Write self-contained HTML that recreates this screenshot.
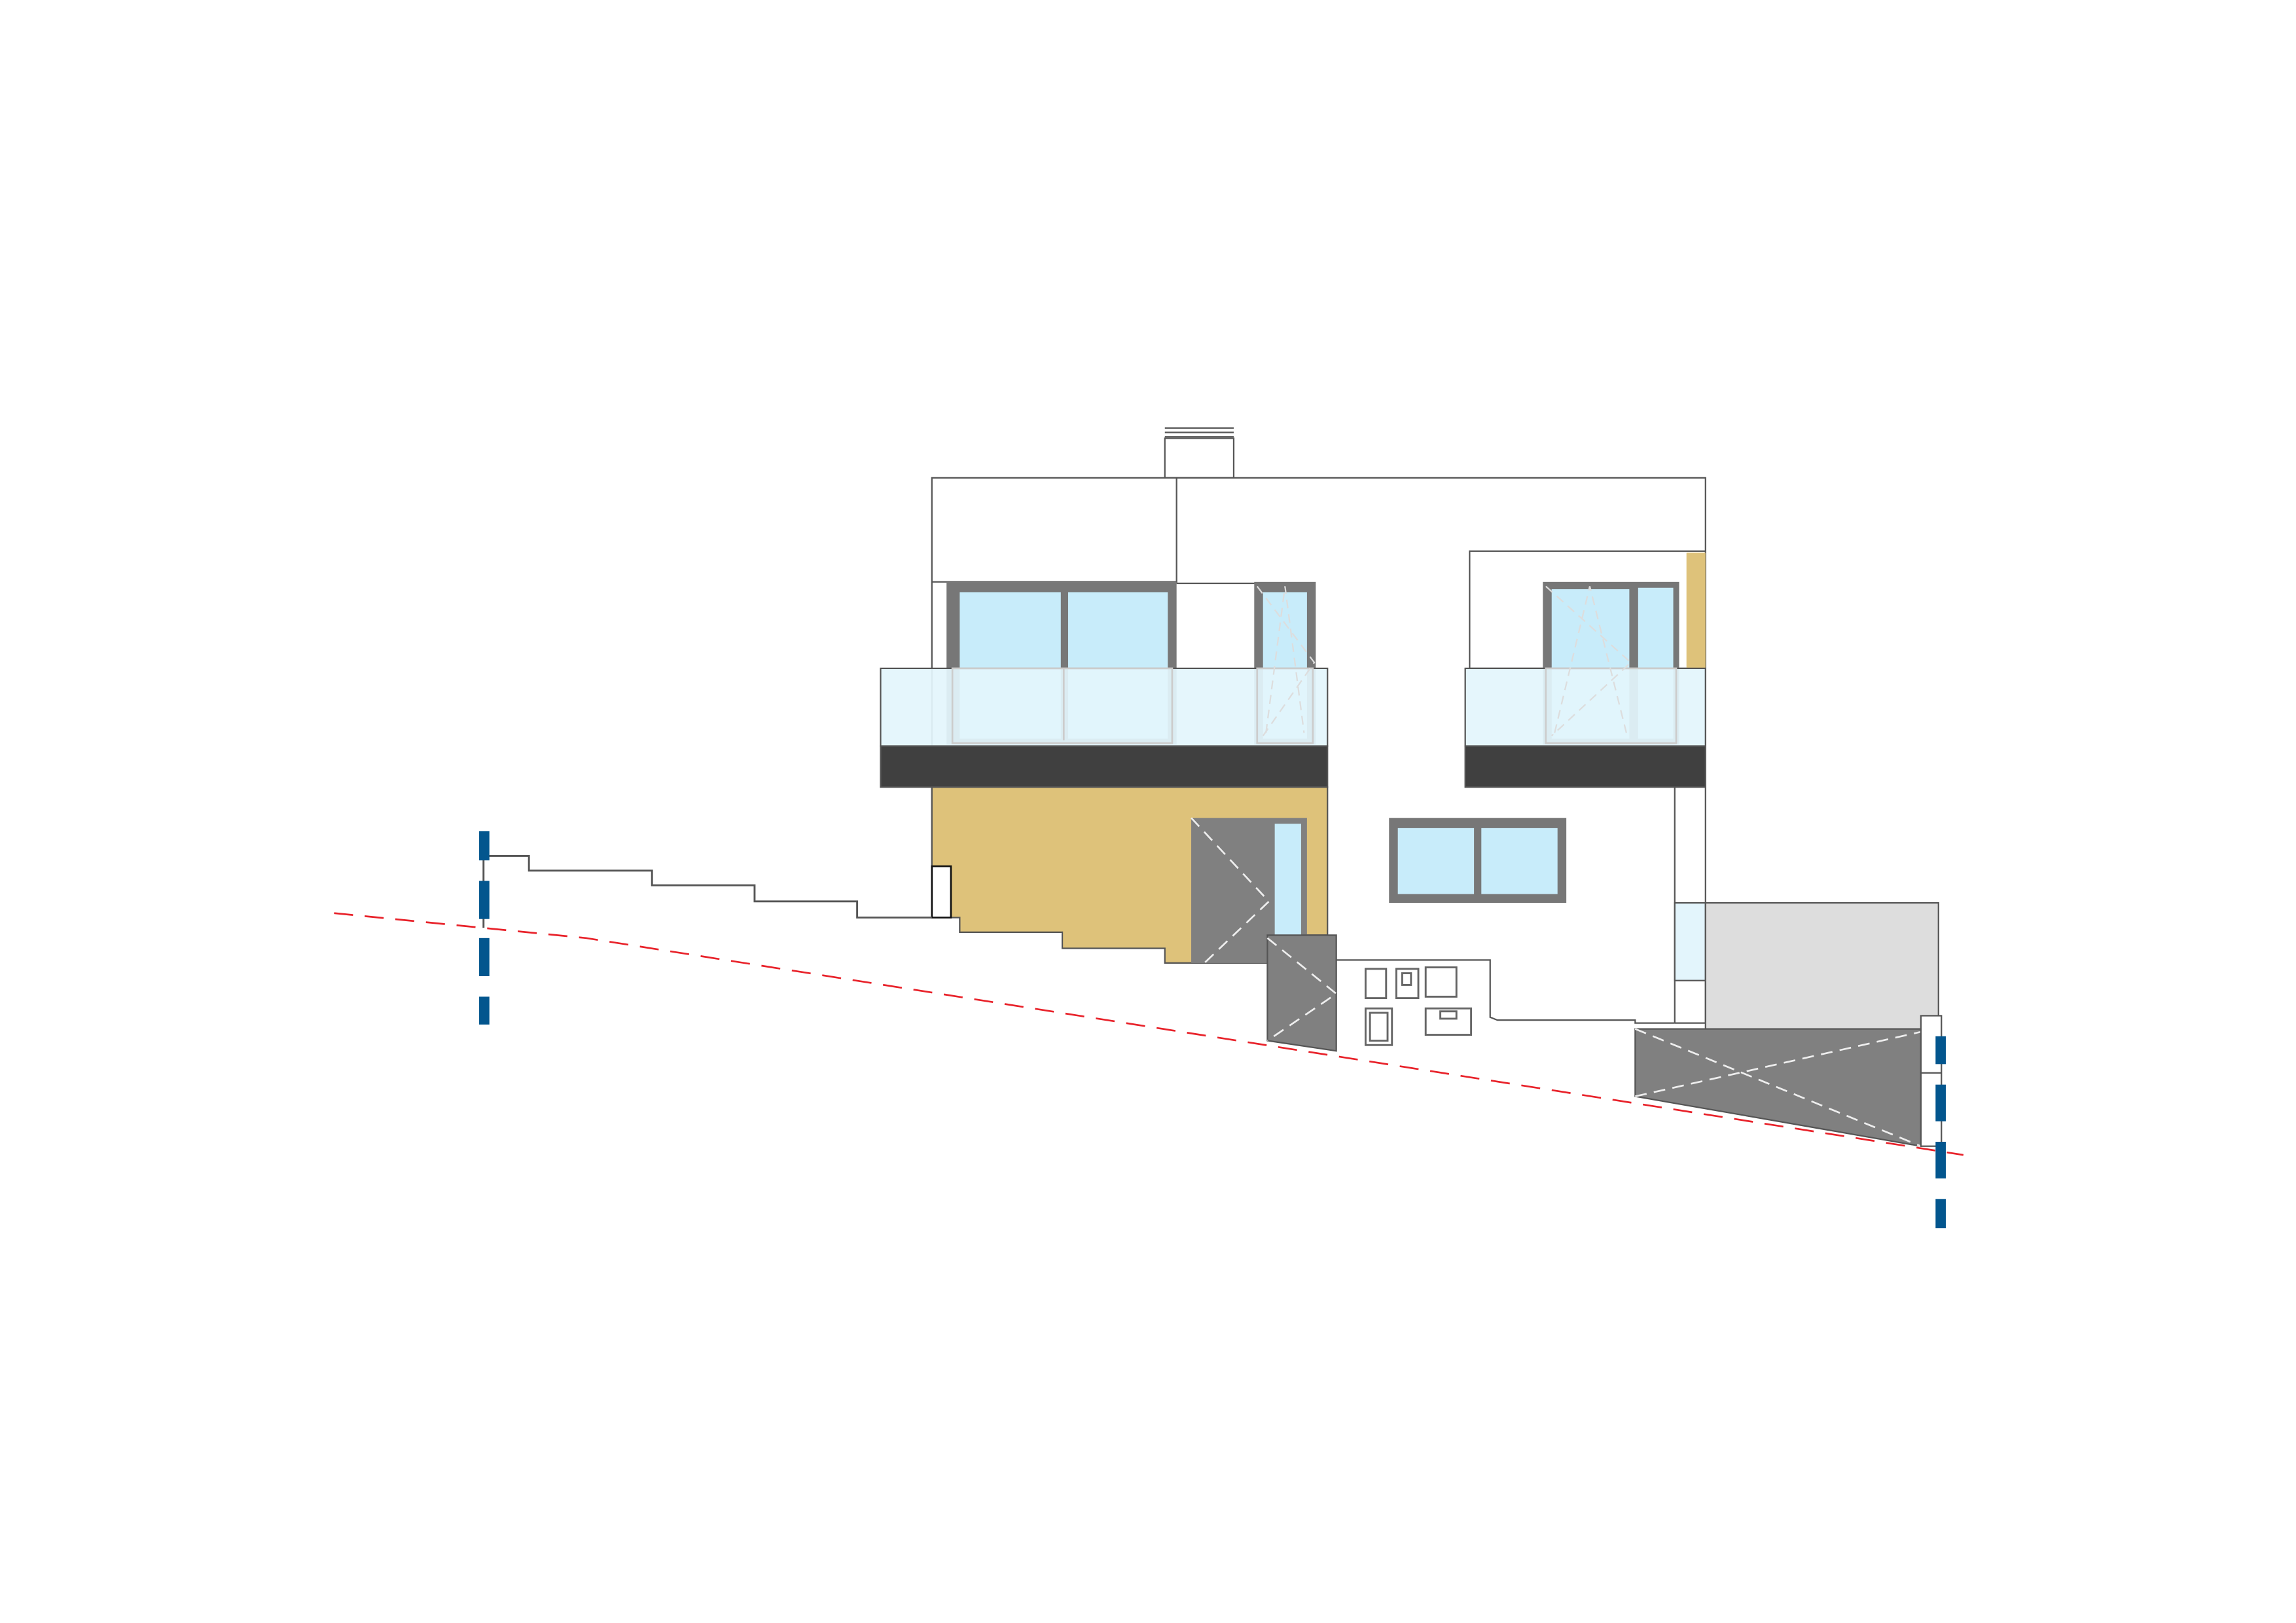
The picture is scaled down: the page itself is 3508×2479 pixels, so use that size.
<!DOCTYPE html>
<html><head><meta charset="utf-8"><style>html,body{margin:0;padding:0;background:#fff}svg{display:block}</style></head>
<body>
<svg width="3508" height="2479" viewBox="0 0 1567 1107.3" xmlns="http://www.w3.org/2000/svg">
<rect x="0" y="0" width="1567" height="1107.3" fill="#fff"/>
<g stroke="#555" stroke-width="1" fill="none">
<rect x="795" y="299" width="47" height="27" fill="#fff"/>
<line x1="795" y1="292" x2="842" y2="292"/><line x1="795" y1="295" x2="842" y2="295"/><line x1="795" y1="298" x2="842" y2="298"/>
<polyline points="636,626 636,326 1164,326 1164,698 1143,698"/>
<line x1="803" y1="326" x2="803" y2="398"/>
<line x1="636" y1="397" x2="803" y2="397"/>
<line x1="803" y1="398" x2="857" y2="398"/>
<rect x="1003" y="376" width="161" height="80" fill="#fff"/>
</g>
<rect x="1151" y="377" width="13" height="79" fill="#dec27a"/>
<rect x="646" y="397" width="157" height="111" fill="#777"/>
<rect x="655" y="404" width="69" height="100" fill="#c8ecfa"/>
<rect x="729" y="404" width="68" height="100" fill="#c8ecfa"/>
<rect x="856" y="397" width="42" height="111" fill="#777"/>
<rect x="862" y="404" width="30" height="100" fill="#c8ecfa"/>
<rect x="1053" y="397" width="93" height="111" fill="#777"/>
<rect x="1059" y="402" width="53" height="102" fill="#c8ecfa"/>
<rect x="1118" y="401" width="24" height="103" fill="#c8ecfa"/>
<rect x="601" y="456" width="305" height="53" fill="#e3f5fc" fill-opacity="0.93" stroke="#555" stroke-width="1"/>
<rect x="601" y="509" width="305" height="28" fill="#404040" stroke="#555" stroke-width="1"/>
<rect x="1000" y="456" width="164" height="53" fill="#e3f5fc" fill-opacity="0.93" stroke="#555" stroke-width="1"/>
<rect x="1000" y="509" width="164" height="28" fill="#404040" stroke="#555" stroke-width="1"/>
<g stroke="#ccc" stroke-width="1.2" fill="none">
<rect x="650" y="456" width="150" height="51"/><line x1="726" y1="456" x2="726" y2="505"/>
<rect x="858" y="456" width="38" height="51"/>
<rect x="1055" y="456" width="89" height="51"/>
</g>
<g stroke="#ddd" stroke-width="1" stroke-dasharray="6,4" fill="none">
<polyline points="858,400 897,452 862,502"/><polyline points="1055,400 1113,452 1059,502"/>
<polyline points="864,500 877,400 890,500"/><polyline points="1061,500 1085,400 1110,500"/>
</g>
<polygon points="636,537 906,537 906,638 865,638 865,657 795,657 795,647 725,647 725,636 655,636 655,626 636,626" fill="#dec27a" stroke="#555" stroke-width="1"/>
<rect x="636" y="591" width="13" height="35" fill="#fff" stroke="#111" stroke-width="1.2"/>
<rect x="813" y="558" width="79" height="99" fill="#808080"/>
<rect x="870" y="562" width="18" height="76" fill="#c8ecfa"/>
<polyline points="813,558 866,615 822,657" fill="none" stroke="#eee" stroke-width="1.2" stroke-dasharray="8,5"/>
<polygon points="865,638 912,638 912,717 865,710" fill="#808080" stroke="#555" stroke-width="1"/>
<polyline points="865,640 912,678 865,710" fill="none" stroke="#eee" stroke-width="1.2" stroke-dasharray="8,5"/>
<rect x="948" y="558" width="121" height="58" fill="#777"/>
<rect x="954" y="565" width="52" height="45" fill="#c8ecfa"/>
<rect x="1011" y="565" width="52" height="45" fill="#c8ecfa"/>
<g stroke="#555" stroke-width="1">
<line x1="1143" y1="537" x2="1143" y2="698"/>
<rect x="1143" y="616" width="21" height="53" fill="#e3f5fc"/>
<rect x="1164" y="616" width="159" height="86" fill="#ddd"/>
</g>
<polyline points="912,655 1017,655 1017,694 1022,696 1116,696 1116,698 1143,698" fill="none" stroke="#555" stroke-width="1"/>
<g stroke="#666" stroke-width="1.3" fill="#fff">
<rect x="932" y="661" width="14" height="20"/><rect x="953" y="661" width="15" height="20"/><rect x="957" y="664" width="6" height="8"/>
<rect x="973" y="660" width="21" height="20"/>
<rect x="932" y="688" width="18" height="25"/><rect x="935" y="691" width="12" height="19"/>
<rect x="973" y="688" width="31" height="18"/><rect x="983" y="690" width="11" height="5"/>
</g>
<polygon points="1116,702 1311,702 1311,782 1116,748" fill="#808080" stroke="#555" stroke-width="1"/>
<polyline points="1116,702 1311,782" fill="none" stroke="#eee" stroke-width="1.2" stroke-dasharray="8,5"/>
<polyline points="1116,748 1311,704" fill="none" stroke="#eee" stroke-width="1.2" stroke-dasharray="8,5"/>
<rect x="1311" y="693" width="14" height="89" fill="#fff" stroke="#555" stroke-width="1"/>
<line x1="1311" y1="732" x2="1325" y2="732" stroke="#555" stroke-width="1"/>
<polyline points="330,633 330,584 361,584 361,594 445,594 445,604 515,604 515,615 585,615 585,626 636,626" fill="none" stroke="#555" stroke-width="1.3"/>
<polyline points="228,623 400,640 1340,788" fill="none" stroke="#e8222a" stroke-width="1.2" stroke-dasharray="13,8"/>
<g fill="#03568e">
<rect x="327" y="567" width="7" height="20"/><rect x="327" y="601" width="7" height="26"/><rect x="327" y="640" width="7" height="26"/><rect x="327" y="680" width="7" height="19"/>
<rect x="1321" y="707" width="7" height="19"/><rect x="1321" y="740" width="7" height="25"/><rect x="1321" y="779" width="7" height="25"/><rect x="1321" y="818" width="7" height="20"/>
</g>
</svg>
</body></html>
